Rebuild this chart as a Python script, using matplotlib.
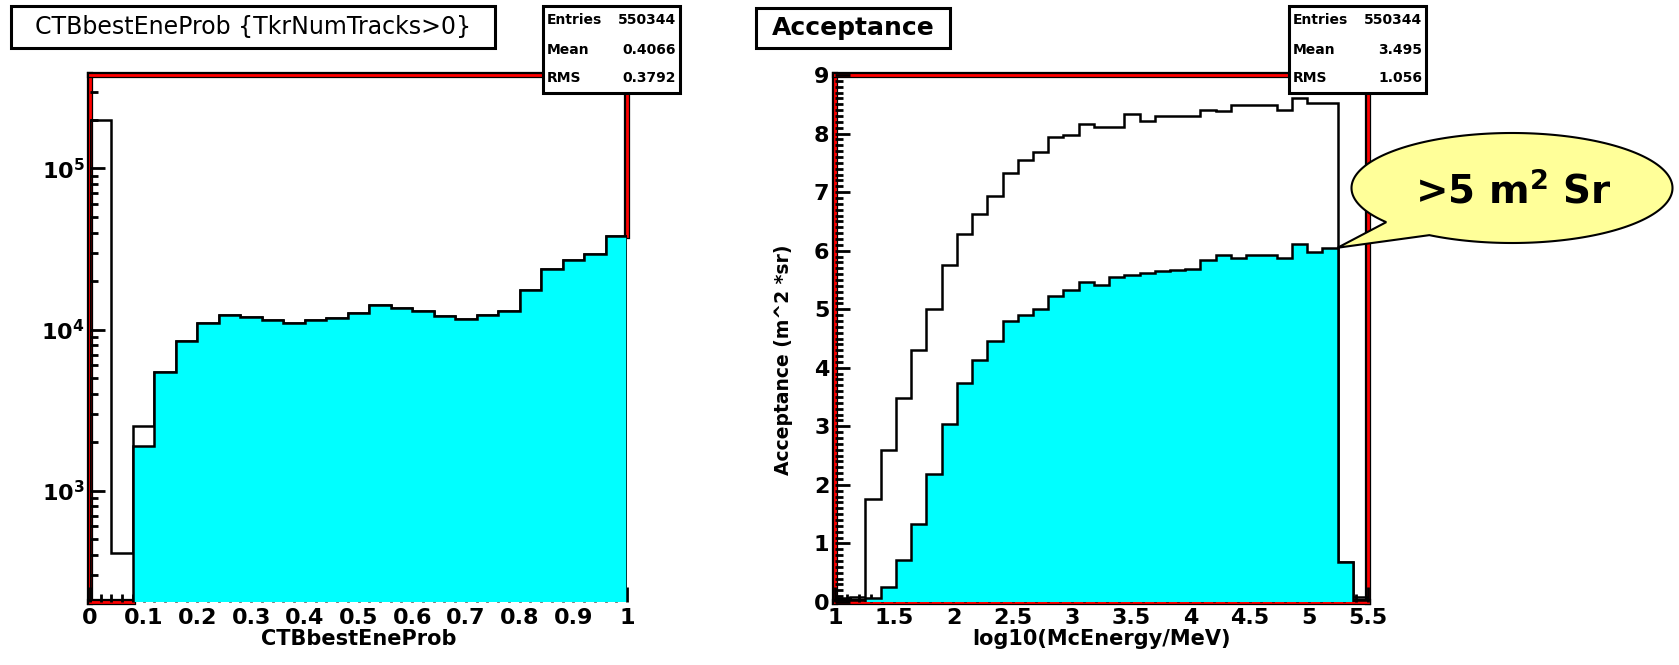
import numpy as np
import matplotlib.pyplot as plt
import matplotlib.patheffects as pe
from matplotlib.patches import Rectangle, Polygon
from matplotlib.ticker import MultipleLocator, LogLocator, NullFormatter

plt.rcParams['font.family'] = 'DejaVu Sans'

# CTBbestEneProb, 25 bins on [0, 1]
prob_edges = np.linspace(0, 1, 26)
prob_all = [2.0e5, 410, 2530, 5450, 8550, 11000, 12400, 11900, 11400, 11000,
            11400, 11800, 12700, 14300, 13600, 13000, 12100, 11700, 12300, 13000,
            17700, 23600, 27200, 29500, 38000]
prob_sel = [0, 0, 1890, 5450, 8550, 11000, 12400, 11900, 11400, 11000,
            11400, 11800, 12700, 14300, 13600, 13000, 12100, 11700, 12300, 13000,
            17700, 23600, 27200, 29500, 38000]

# acceptance vs log10(McEnergy/MeV), 35 bins on [1, 5.5]
ene_edges = np.linspace(1, 5.5, 36)
acc_all = [0.06, 0.08, 1.76, 2.60, 3.49, 4.31, 5.01, 5.75, 6.29, 6.63,
           6.94, 7.32, 7.55, 7.68, 7.94, 7.98, 8.16, 8.12, 8.12, 8.33,
           8.21, 8.30, 8.30, 8.30, 8.41, 8.38, 8.48, 8.48, 8.48, 8.41,
           8.60, 8.52, 8.52, 0.68, 0.08]
acc_sel = [0, 0, 0.06, 0.25, 0.71, 1.33, 2.18, 3.04, 3.74, 4.14,
           4.45, 4.80, 4.90, 5.01, 5.23, 5.32, 5.47, 5.41, 5.55, 5.59,
           5.62, 5.66, 5.67, 5.69, 5.84, 5.92, 5.88, 5.93, 5.93, 5.88,
           6.11, 5.98, 6.05, 0.68, 0]

stats_left = [('Entries', '550344'), ('Mean', '0.4066'), ('RMS', '0.3792')]
stats_right = [('Entries', '550344'), ('Mean', '3.495'), ('RMS', '1.056')]

CYAN = '#00FFFF'
W, H = 1679, 665
fig = plt.figure(figsize=(W / 100, H / 100), dpi=100)


def px_rect(x0, y0, x1, y1):
    # pixel box, y measured from the top -> figure fraction
    return [x0 / W, 1 - y1 / H, (x1 - x0) / W, (y1 - y0) / H]


def root_frame(ax):
    ax.set_axisbelow(True)
    for s in ax.spines.values():
        s.set_color('red')
        s.set_linewidth(2)
        s.set_path_effects([pe.Stroke(linewidth=4.5, foreground='black'), pe.Normal()])
        s.set_zorder(0.5)
    ax.tick_params(which='both', direction='in', top=False, right=False,
                   width=2, color='black', labelsize=16, pad=4)
    ax.tick_params(which='major', length=11)
    ax.tick_params(which='minor', length=6)


def bold_ticks(ax):
    for lab in ax.get_xticklabels() + ax.get_yticklabels():
        lab.set_fontweight('bold')


def title_box(x0, y0, x1, y1, text, **kw):
    fig.patches.append(Rectangle((x0 / W, 1 - y1 / H), (x1 - x0) / W, (y1 - y0) / H,
                                 transform=fig.transFigure, facecolor='white',
                                 edgecolor='black', lw=2.2, zorder=5))
    fig.text((x0 + x1) / 2 / W, 1 - (y0 + y1) / 2 / H, text, ha='center', va='center',
             zorder=6, **kw)


def stats_box(x0, y0, x1, y1, rows):
    fig.patches.append(Rectangle((x0 / W, 1 - y1 / H), (x1 - x0) / W, (y1 - y0) / H,
                                 transform=fig.transFigure, facecolor='white',
                                 edgecolor='black', lw=2.2, zorder=5))
    step = (y1 - y0) / len(rows)
    for i, (name, val) in enumerate(rows):
        yc = 1 - (y0 + step * (i + 0.5)) / H
        fig.text((x0 + 4) / W, yc, name, ha='left', va='center', fontsize=10,
                 fontweight='bold', zorder=6)
        fig.text((x1 - 4) / W, yc, val, ha='right', va='center', fontsize=10,
                 fontweight='bold', zorder=6)


# ---- left panel
ax1 = fig.add_axes(px_rect(90, 75, 627, 602))
root_frame(ax1)
ax1.set_yscale('log')
ax1.set_xlim(0, 1)
ax1.set_ylim(204, 3.8e5)
ax1.stairs(prob_all, prob_edges, baseline=1, color='black', lw=1.8, zorder=1)
ax1.stairs(np.clip(prob_sel, 1, None), prob_edges, baseline=1, fill=True,
           color=CYAN, zorder=1.1)
ax1.stairs(np.clip(prob_sel, 1, None), prob_edges, baseline=1, color='black',
           lw=1.8, zorder=1.2)
# frame hidden where the filled histogram reaches it
ax1.spines['right'].set_bounds(prob_sel[-1], 3.8e5)
ax1.spines['bottom'].set_bounds(0, prob_edges[2])
ax1.set_xticks(np.arange(0, 1.01, 0.1), ['%g' % v for v in np.arange(0, 1.01, 0.1).round(1)])
ax1.xaxis.set_minor_locator(MultipleLocator(0.02))
ax1.set_yticks([1e3, 1e4, 1e5], [r'$\mathbf{10^{3}}$', r'$\mathbf{10^{4}}$', r'$\mathbf{10^{5}}$'])
ax1.yaxis.set_minor_locator(LogLocator(base=10, subs=np.arange(2, 10)))
ax1.yaxis.set_minor_formatter(NullFormatter())
ax1.set_xlabel('CTBbestEneProb', fontsize=15, fontweight='bold')
ax1.xaxis.set_label_coords(0.5, -0.052)
bold_ticks(ax1)

# ---- right panel
ax2 = fig.add_axes(px_rect(835, 75, 1368, 602))
root_frame(ax2)
ax2.set_xlim(1, 5.5)
ax2.set_ylim(0, 9)
ax2.stairs(acc_all, ene_edges, baseline=0, color='black', lw=1.8, zorder=1)
ax2.stairs(acc_sel, ene_edges, baseline=0, fill=True, color=CYAN, zorder=1.1)
ax2.stairs(acc_sel, ene_edges, baseline=0, color='black', lw=1.8, zorder=1.2)
xt = np.arange(1, 5.51, 0.5)
ax2.set_xticks(xt, ['%g' % v for v in xt])
ax2.xaxis.set_minor_locator(MultipleLocator(0.1))
ax2.set_yticks(range(10), [str(v) for v in range(10)])
ax2.yaxis.set_minor_locator(MultipleLocator(0.1))
ax2.set_xlabel('log10(McEnergy/MeV)', fontsize=15, fontweight='bold')
ax2.xaxis.set_label_coords(0.5, -0.052)
ax2.set_ylabel('Acceptance (m^2 *sr)', fontsize=13.5, fontweight='bold')
ax2.yaxis.set_label_coords(-0.079, 0.46)
bold_ticks(ax2)

# ---- title and stats boxes
title_box(11, 6, 495, 48, 'CTBbestEneProb {TkrNumTracks>0}', fontsize=17)
title_box(756, 8, 950, 48, 'Acceptance', fontsize=18, fontweight='bold')
stats_box(543, 6, 680, 93, stats_left)
stats_box(1289, 6, 1426, 93, stats_right)

# ---- speech bubble pointing at the last full bin of the selected acceptance
cx, cy, a, b = 1512, H - 188, 160.5, 55
tip = ax2.transData.transform((ene_edges[33], acc_sel[32]))
t = np.deg2rad(np.linspace(239, 578.4, 240))
pts = np.column_stack([cx + a * np.cos(t), cy + b * np.sin(t)])
pts = np.vstack([pts, tip])
pts = fig.transFigure.inverted().transform(pts)
fig.patches.append(Polygon(pts, closed=True, transform=fig.transFigure,
                           facecolor='#FFFF99', edgecolor='black', lw=1.5, zorder=7))
fig.text(1513 / W, 1 - 192 / H, r'>5 m$^{\mathbf{2}}$ Sr', ha='center', va='center',
         fontsize=28, fontweight='bold', zorder=8)

fig.savefig('out.png', dpi=100, facecolor='white')
